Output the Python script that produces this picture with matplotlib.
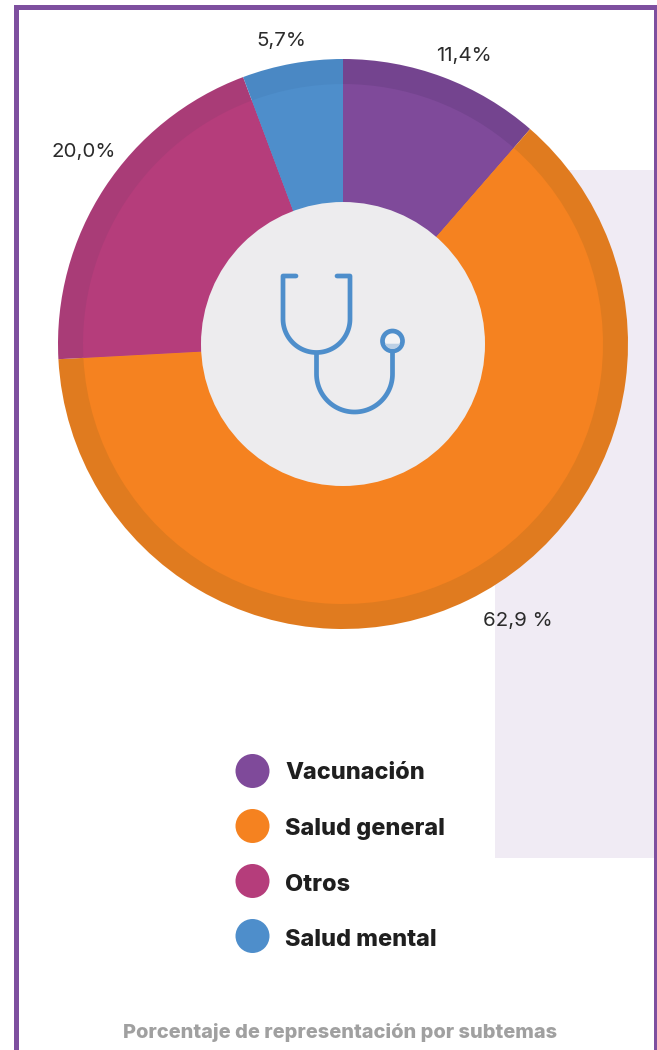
import matplotlib
matplotlib.use("Agg")
import matplotlib.pyplot as plt
from matplotlib.patches import Circle, Rectangle
import numpy as np

categories = ["Vacunación", "Salud general", "Otros", "Salud mental"]
values = [11.4, 62.75, 20.15, 5.7]
value_labels = ["11,4%", "62,9 %", "20,0%", "5,7%"]
colors = ["#7f4a9a", "#f58220", "#b53d7b", "#4e8ecb"]
ring_colors = ["#74448f", "#e07b1f", "#a93c77", "#4a88c4"]
footer = "Porcentaje de representación por subtemas"

W, H = 657, 1050
plt.rcParams["font.family"] = ["Inter", "DejaVu Sans"]

fig = plt.figure(figsize=(W / 100, H / 100), dpi=100)
ax = fig.add_axes([0, 0, 1, 1])


# picture rows count from the top, the axes from the bottom
def Y(py):
    return H - py


# lavender panel behind the pie, then the frame (open at the bottom)
ax.add_patch(Rectangle((495, Y(858)), 160, 688, fc="#f0ebf4", ec="none", zorder=0))
ax.add_patch(Rectangle((14, 0), 5, Y(5), fc="#7e4f9f", ec="none", zorder=1))
ax.add_patch(Rectangle((14, Y(10)), 643, 5, fc="#7e4f9f", ec="none", zorder=1))
ax.add_patch(Rectangle((654, 0), 3, Y(5), fc="#7e4f9f", ec="none", zorder=1))

# outer darker ring and inner pie
cx, cy = 343, Y(344)
for rad, cols, z in [(285, ring_colors, 2), (260, colors, 3)]:
    wedges, _ = ax.pie(values, colors=cols, startangle=90, counterclock=False,
                       radius=rad, center=(cx, cy), frame=True,
                       wedgeprops={"linewidth": 0, "zorder": z})
ax.add_patch(Circle((cx, cy), 142, fc="#edecee", ec="none", zorder=4))

# stethoscope icon
ICON = "#4e8ecb"


def arc(x0, y0, r, a0, a1):
    a = np.radians(np.linspace(a0, a1, 60))
    return x0 + r * np.cos(a), Y(y0) + r * np.sin(a)


ax_, ay_ = arc(316.5, 319, 33.5, 180, 360)
x1 = np.concatenate([[296, 283], ax_, [350, 337]])
y1 = np.concatenate([[Y(276), Y(276)], ay_, [Y(276), Y(276)]])
ax.plot(x1, y1, color=ICON, lw=3.4, solid_capstyle="round", solid_joinstyle="round", zorder=5)

bx_, by_ = arc(354.5, 374, 38, 180, 360)
x2 = np.concatenate([[316.5], bx_, [392.5]])
y2 = np.concatenate([[Y(353)], by_, [Y(351)]])
ax.plot(x2, y2, color=ICON, lw=3.4, solid_capstyle="butt", solid_joinstyle="round", zorder=5)

ax.add_patch(Circle((392.5, Y(341)), 10, fc="#f2f3f5", ec=ICON, lw=3.4, zorder=6))
sx, sy = arc(392.5, 341, 8, 200, 340)
ax.fill(sx, sy, color="#bcd0e5", lw=0, zorder=7)

# value labels
label_pos = [(464, 56), (518, 621), (84, 152), (281, 41)]
for lab, (tx, ty) in zip(value_labels, label_pos):
    ax.text(tx, Y(ty), lab, ha="center", va="center", fontsize=14.8,
            fontweight="normal", color="#2b2b2b", zorder=8)

# legend, text sits on its own baselines
legend_rows = [771, 826, 881, 936]
legend_base = [779, 835, 891, 946]
for name, col, row, base in zip(categories, colors, legend_rows, legend_base):
    ax.add_patch(Circle((252.5, Y(row)), 17, fc=col, ec="none", zorder=8))
    ax.text(285, Y(base), name, ha="left", va="baseline", fontsize=16.9,
            fontweight=800, color="#1f1f1f", zorder=8)

ax.text(340, Y(1032), footer, ha="center", va="center", fontsize=14.4,
        fontweight=800, color="#a0a0a0", zorder=8)

ax.set_xlim(0, W)
ax.set_ylim(0, H)
ax.set_aspect("auto")
ax.axis("off")
fig.savefig("out.png", dpi=100, facecolor="white")
